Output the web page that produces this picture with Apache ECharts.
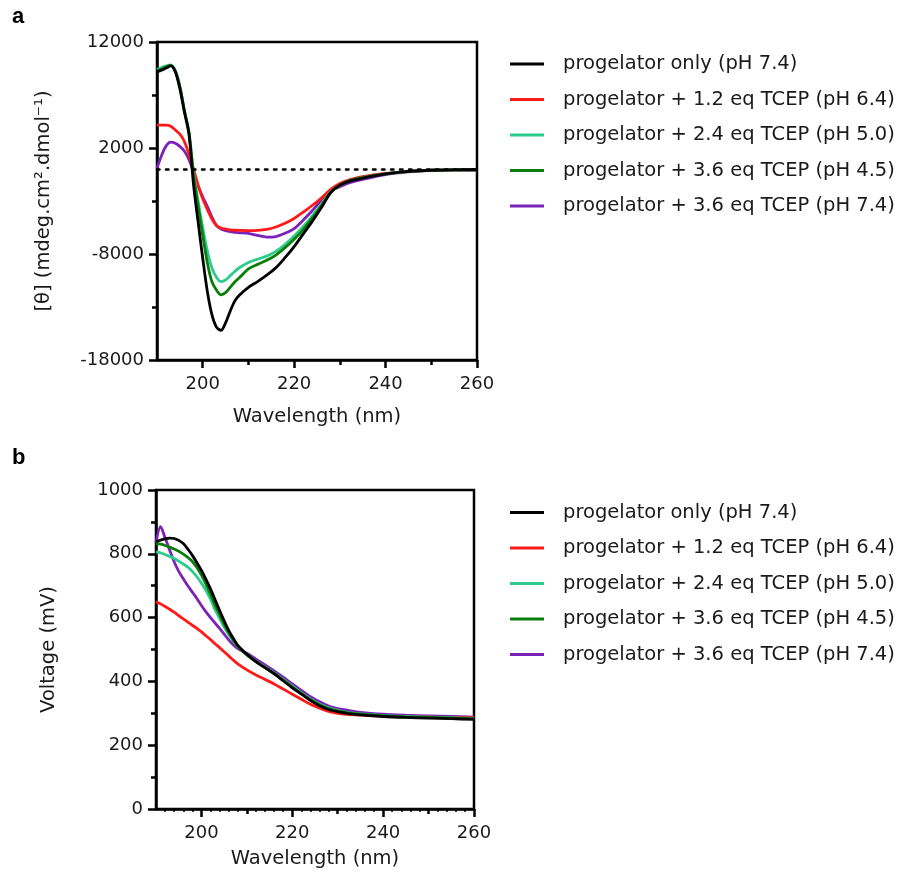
<!DOCTYPE html>
<html><head><meta charset="utf-8">
<script src="https://cdn.jsdelivr.net/npm/echarts@6/dist/echarts.min.js"></script>
<style>html,body{margin:0;padding:0;background:#fff}#c{width:914px;height:877px}</style>
</head><body><div id="c"></div>
<script>
// ---------- data ----------
const wavelengths = [190,191,192,193,194,195,196,197,198,199,200,201,202,203,204,205,206,207,208,210,212,214,216,218,220,222,224,226,228,230,232,235,240,245,250,255,260];
const seriesNames = [
  'progelator only (pH 7.4)',
  'progelator + 1.2 eq TCEP (pH 6.4)',
  'progelator + 2.4 eq TCEP (pH 5.0)',
  'progelator + 3.6 eq TCEP (pH 4.5)',
  'progelator + 3.6 eq TCEP (pH 7.4)'
];
const seriesColors = ['#000000', '#ff1a1a', '#2bcc8c', '#0b7d0b', '#7d22b8'];

// panel a : ellipticity [θ]
const cdOnly  = [9200,9350,9550,9750,9200,7600,5400,3300,-1500,-5000,-8400,-11500,-13700,-14900,-15200,-14500,-13400,-12450,-11900,-11150,-10600,-10000,-9300,-8350,-7300,-6100,-4900,-3600,-2200,-1500,-1150,-850,-450,-200,-100,-60,-50];
const cdT12   = [4150,4150,4150,4050,3700,3300,2600,1400,0,-1500,-2800,-3800,-4700,-5300,-5550,-5650,-5720,-5750,-5770,-5800,-5780,-5680,-5450,-5100,-4650,-4050,-3400,-2700,-1900,-1350,-1000,-700,-400,-200,-100,-60,-50];
const cdT24   = [9400,9600,9750,9850,9300,7800,5500,3500,-400,-3000,-5500,-7700,-9300,-10200,-10600,-10450,-10050,-9650,-9300,-8800,-8480,-8200,-7750,-7100,-6300,-5400,-4400,-3300,-2150,-1500,-1100,-800,-450,-200,-100,-60,-50];
const cdT36a  = [9300,9450,9650,9800,9250,7800,5500,3400,-600,-3500,-6200,-8800,-10600,-11400,-11850,-11650,-11150,-10650,-10250,-9400,-8980,-8600,-8100,-7400,-6600,-5700,-4600,-3400,-2200,-1500,-1100,-800,-450,-200,-100,-60,-50];
const cdT36b  = [100,1300,2200,2550,2450,2150,1700,900,-300,-1600,-2600,-3500,-4500,-5300,-5650,-5800,-5900,-5950,-6000,-6050,-6250,-6400,-6350,-6050,-5600,-4800,-3900,-2900,-2050,-1650,-1300,-950,-500,-250,-100,-60,-50];

// panel b : HT voltage (mV)
const htOnly  = [838,843,847,849,848,842,832,815,795,772,748,720,690,656,622,590,560,535,513,485,462,443,424,402,380,360,340,324,312,305,300,295,290,287,285,283,281];
const htT12   = [650,643,635,626,617,606,596,586,576,566,555,543,531,518,506,493,480,467,455,436,420,406,392,376,360,344,328,316,306,300,297,294,291,289,288,287,286];
const htT24   = [806,803,798,792,785,777,768,758,745,728,708,685,658,625,598,570,547,527,510,484,463,445,427,406,385,364,345,329,317,309,303,298,293,290,288,286,284];
const htT36a  = [833,830,826,821,815,808,799,789,776,757,733,705,673,640,610,580,553,530,510,483,462,443,425,404,382,362,343,327,315,307,302,297,292,289,287,285,283];
const htT36b  = [835,885,850,812,775,745,722,700,680,660,638,618,600,583,566,548,530,515,503,488,470,452,433,413,392,372,352,336,323,315,310,303,297,294,292,290,288];

// ticks
const xTickLabels = [200,220,240,260];
const xMidTicks = [210,230,250];
const xSmallTicks = [192,194,196,198,202,204,206,208,212,214,216,218,222,224,226,228,232,234,236,238,242,244,246,248,252,254,256,258];
const cdTickLabels = [-18000,-8000,2000,12000];
const cdMinorTicks = [-13000,-3000,7000];
const htTickLabels = [0,200,400,600,800,1000];
const htMinorTicks = [100,300,500,700,900];

// ---------- chart ----------
const FONT = 'DejaVu Sans';
const TXT = '#1a1a1a';
const chart = echarts.init(document.getElementById('c'), null, {renderer: 'canvas'});

function tickAxis(gridIndex, isX, min, max, ticks, len, width, labels, name, nameGap) {
  const ax = {
    type: 'value', gridIndex, min, max,
    axisLine: {show: !!labels, onZero: false, lineStyle: {color: '#000', width: 2.5}},
    axisTick: {show: true, customValues: ticks, length: len, lineStyle: {color: '#000', width: width}},
    axisLabel: labels ? {show: true, customValues: labels, fontFamily: FONT, fontSize: 18, color: TXT,
      margin: isX ? 15 : 13, formatter: v => String(v)} : {show: false},
    splitLine: {show: false}, minorTick: {show: false}
  };
  ax.position = isX ? 'bottom' : 'left';
  if (name) {
    ax.name = name; ax.nameLocation = 'middle'; ax.nameGap = nameGap;
    ax.nameTextStyle = {fontFamily: FONT, fontSize: 19.5, color: TXT};
  }
  return ax;
}

const cdArrays = [cdOnly, cdT12, cdT24, cdT36a, cdT36b];
const htArrays = [htOnly, htT12, htT24, htT36a, htT36b];
const drawOrder = [4, 1, 2, 3, 0];

const series = [];
drawOrder.forEach(i => {
  series.push({
    type: 'line', name: seriesNames[i], xAxisIndex: 0, yAxisIndex: 0,
    data: wavelengths.map((w, k) => [w, cdArrays[i][k]]),
    symbol: 'none', smooth: 0.3, color: seriesColors[i],
    lineStyle: {width: 2.8, color: seriesColors[i]}, z: 3
  });
});
drawOrder.forEach(i => {
  series.push({
    type: 'line', name: seriesNames[i], xAxisIndex: 2, yAxisIndex: 2,
    data: wavelengths.map((w, k) => [w, htArrays[i][k]]),
    symbol: 'none', smooth: 0.3, color: seriesColors[i],
    lineStyle: {width: 2.8, color: seriesColors[i]}, z: 3
  });
});
// zero reference (dotted) in panel a
series.push({
  type: 'line', xAxisIndex: 0, yAxisIndex: 0, data: [], symbol: 'none', z: 2,
  markLine: {silent: true, symbol: 'none', label: {show: false},
    lineStyle: {color: '#000', width: 2.5, type: [2.5, 6.5], cap: 'round'},
    data: [{yAxis: 0}]}
});

function legendAt(top) {
  return {
    data: seriesNames, orient: 'vertical', left: 505, top: top,
    itemWidth: 34, itemHeight: 3, itemGap: 15.5,
    icon: 'path://M0,0H34V3H0Z', selectedMode: false,
    textStyle: {fontFamily: FONT, fontSize: 19.5, color: TXT, lineHeight: 20, padding: [0, 0, 0, 14]}
  };
}

chart.setOption({
  animation: false,
  backgroundColor: '#fff',
  grid: [
    {left: 157, top: 42, width: 320, height: 318, show: true, borderColor: '#000', borderWidth: 2.5, containLabel: false},
    {left: 156, top: 490, width: 318, height: 319, show: true, borderColor: '#000', borderWidth: 2.5, containLabel: false}
  ],
  xAxis: [
    tickAxis(0, true, 190, 260, xTickLabels, 8, 2.5, xTickLabels, 'Wavelength (nm)', 47),
    tickAxis(0, true, 190, 260, xMidTicks, 5, 2.5, null),
    tickAxis(1, true, 190, 260, xTickLabels, 8, 2.5, xTickLabels, 'Wavelength (nm)', 40),
    tickAxis(1, true, 190, 260, xMidTicks, 5, 2.5, null),
    tickAxis(1, true, 190, 260, xSmallTicks, 3, 1.5, null)
  ],
  yAxis: [
    tickAxis(0, false, -18000, 12000, cdTickLabels, 8, 2.5, cdTickLabels, '[θ] (mdeg.cm².dmol⁻¹)', 103),
    tickAxis(0, false, -18000, 12000, cdMinorTicks, 5, 2.5, null),
    tickAxis(1, false, 0, 1000, htTickLabels, 8, 2.5, htTickLabels, 'Voltage (mV)', 97),
    tickAxis(1, false, 0, 1000, htMinorTicks, 5, 2.5, null)
  ],
  legend: [legendAt(49), legendAt(497.5)],
  graphic: [
    {type: 'text', left: 12, top: 6, style: {text: 'a', font: 'bold 22px "Liberation Sans"', fill: '#000'}},
    {type: 'text', left: 12, top: 447, style: {text: 'b', font: 'bold 22px "Liberation Sans"', fill: '#000'}}
  ],
  series: series
});
</script></body></html>
